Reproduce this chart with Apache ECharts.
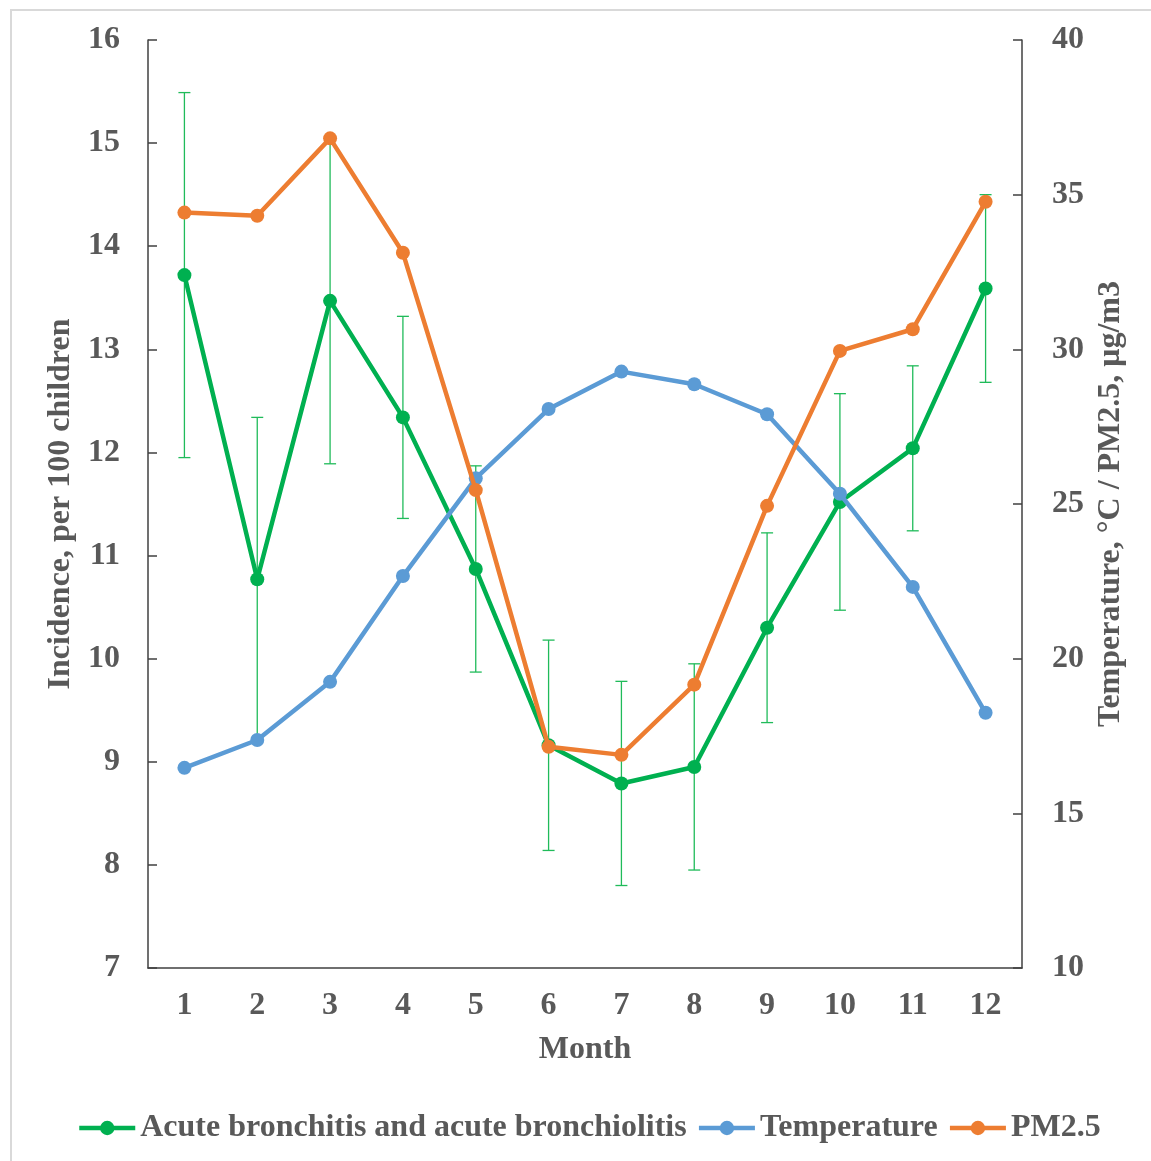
<!DOCTYPE html>
<html>
<head>
<meta charset="utf-8">
<script src="https://cdn.jsdelivr.net/npm/echarts@6/dist/echarts.min.js"></script>
<style>
html,body{margin:0;padding:0;background:#fff;}
#chart{width:1151px;height:1161px;}
</style>
</head>
<body>
<div id="chart"></div>
<script>
var months = ['1','2','3','4','5','6','7','8','9','10','11','12'];
var incidence = [13.72, 10.77, 13.47, 12.34, 10.87, 9.16, 8.79, 8.95, 10.30, 11.52, 12.04, 13.59];
var incidenceErr = [1.77, 1.57, 1.58, 0.98, 1.00, 1.02, 0.99, 1.00, 0.92, 1.05, 0.80, 0.91];
var temperature = [16.47, 17.37, 19.25, 22.67, 25.83, 28.07, 29.28, 28.87, 27.90, 25.33, 22.32, 18.25];
var pm25 = [34.42, 34.32, 36.82, 33.12, 25.45, 17.15, 16.89, 19.16, 24.94, 29.95, 30.65, 34.77];
var leftTicks = {min: 7, max: 16, interval: 1};
var rightTicks = {min: 10, max: 40, interval: 5};

var FONT = '"Liberation Serif", "Times New Roman", serif';
var TXT = '#595959';
var AX = '#404040';
var FS = 32;

var errData = months.map(function (m, i) {
  return [i, incidence[i] - incidenceErr[i], incidence[i] + incidenceErr[i]];
});

var chart = echarts.init(document.getElementById('chart'));
chart.setOption({
  animation: false,
  backgroundColor: '#fff',
  graphic: [{
    type: 'rect', silent: true, z: -10,
    shape: {x: 11, y: 10, width: 1300, height: 1300},
    style: {fill: 'none', stroke: '#d9d9d9', lineWidth: 2}
  }],
  grid: {left: 148, right: 129, top: 40, bottom: 193},
  legend: {
    bottom: 12,
    left: 72,
    itemWidth: 56,
    itemHeight: 18,
    itemGap: 10,
    lineStyle: {width: 4.5},
    textStyle: {fontFamily: FONT, fontSize: FS, fontWeight: 'bold', color: TXT},
    data: ['Acute bronchitis and acute bronchiolitis', 'Temperature', 'PM2.5']
  },
  xAxis: {
    type: 'category',
    data: months,
    name: 'Month',
    nameLocation: 'middle',
    nameGap: 66,
    nameTextStyle: {fontFamily: FONT, fontSize: FS, fontWeight: 'bold', color: TXT},
    axisLine: {lineStyle: {color: AX, width: 1.5}},
    axisTick: {inside: true, length: 10, lineStyle: {color: AX, width: 1.5}},
    axisLabel: {fontFamily: FONT, fontSize: FS, fontWeight: 'bold', color: TXT, margin: 22},
    splitLine: {show: false}
  },
  yAxis: [{
    type: 'value',
    min: leftTicks.min, max: leftTicks.max, interval: leftTicks.interval,
    name: 'Incidence, per 100 children',
    nameLocation: 'middle',
    nameRotate: 90,
    nameGap: 70,
    nameTextStyle: {fontFamily: FONT, fontSize: FS, fontWeight: 'bold', color: TXT},
    axisLine: {show: true, lineStyle: {color: AX, width: 1.5}},
    axisTick: {show: true, inside: true, length: 9, lineStyle: {color: AX, width: 1.5}},
    axisLabel: {fontFamily: FONT, fontSize: FS, fontWeight: 'bold', color: TXT, margin: 28},
    splitLine: {show: false}
  }, {
    type: 'value',
    position: 'right',
    min: rightTicks.min, max: rightTicks.max, interval: rightTicks.interval,
    name: 'Temperature, \u00B0C / PM2.5, \u03BCg/m3',
    nameLocation: 'middle',
    nameRotate: 90,
    nameGap: 72,
    nameTextStyle: {fontFamily: FONT, fontSize: FS, fontWeight: 'bold', color: TXT},
    axisLine: {show: true, lineStyle: {color: AX, width: 1.5}},
    axisTick: {show: true, inside: true, length: 9, lineStyle: {color: AX, width: 1.5}},
    axisLabel: {fontFamily: FONT, fontSize: FS, fontWeight: 'bold', color: TXT, margin: 30},
    splitLine: {show: false}
  }],
  series: [{
    type: 'custom',
    name: 'err',
    yAxisIndex: 0,
    z: 1,
    data: errData,
    renderItem: function (params, api) {
      var x = api.value(0);
      var lo = api.coord([x, api.value(1)]);
      var hi = api.coord([x, api.value(2)]);
      var hw = 6;
      var st = {stroke: '#20bb5a', lineWidth: 1.3};
      return {
        type: 'group',
        children: [
          {type: 'line', shape: {x1: lo[0], y1: lo[1], x2: hi[0], y2: hi[1]}, style: st},
          {type: 'line', shape: {x1: lo[0] - hw, y1: lo[1], x2: lo[0] + hw, y2: lo[1]}, style: st},
          {type: 'line', shape: {x1: hi[0] - hw, y1: hi[1], x2: hi[0] + hw, y2: hi[1]}, style: st}
        ]
      };
    }
  }, {
    type: 'line',
    name: 'Acute bronchitis and acute bronchiolitis',
    yAxisIndex: 0,
    z: 2,
    data: incidence,
    symbol: 'circle',
    symbolSize: 14,
    lineStyle: {color: '#00B050', width: 4.5},
    itemStyle: {color: '#00B050'}
  }, {
    type: 'line',
    name: 'Temperature',
    yAxisIndex: 1,
    z: 3,
    data: temperature,
    symbol: 'circle',
    symbolSize: 14,
    lineStyle: {color: '#5B9BD5', width: 4.5},
    itemStyle: {color: '#5B9BD5'}
  }, {
    type: 'line',
    name: 'PM2.5',
    yAxisIndex: 1,
    z: 4,
    data: pm25,
    symbol: 'circle',
    symbolSize: 14,
    lineStyle: {color: '#ED7D31', width: 4.5},
    itemStyle: {color: '#ED7D31'}
  }]
});
</script>
</body>
</html>
